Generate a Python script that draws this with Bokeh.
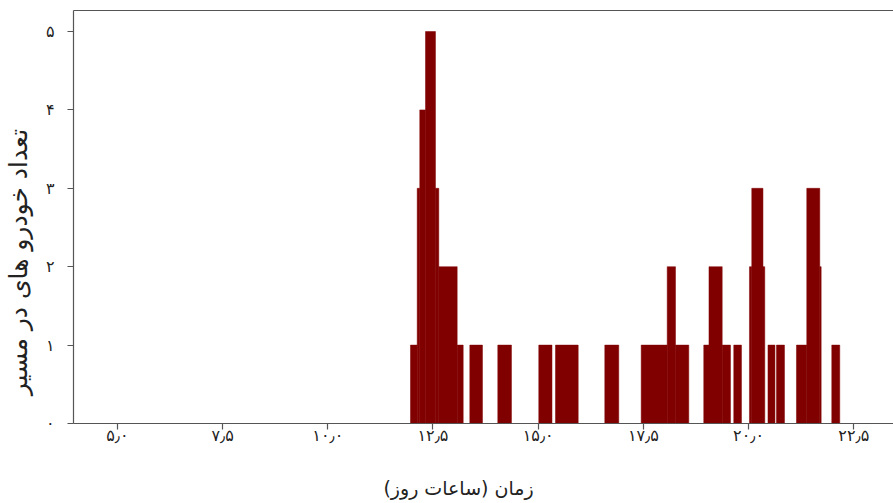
import math
from bokeh.plotting import figure
from bokeh.layouts import column, row
from bokeh.models import LinearAxis, FixedTicker, Range1d, ColumnDataSource
from bokeh.core.properties import value
from bokeh.embed import file_html
from bokeh.resources import INLINE

# step segments of the number of vehicles on the route (time in hours)
seg_start = [11.965, 12.125, 12.186, 12.322, 12.559, 12.638, 13.075, 13.375, 14.040,
             15.014, 15.411, 16.583, 17.448, 18.066, 18.263, 18.935, 19.059, 19.373,
             19.648, 20.021, 20.076, 20.342, 20.461, 20.663, 21.138, 21.383, 21.692, 21.977]
seg_end = [12.125, 12.186, 12.322, 12.559, 12.638, 13.075, 13.218, 13.676, 14.365,
           15.328, 15.951, 16.915, 18.066, 18.263, 18.579, 19.059, 19.373, 19.570,
           19.831, 20.076, 20.342, 20.385, 20.627, 20.853, 21.383, 21.692, 21.725, 22.167]
seg_count = [1, 3, 4, 5, 3, 2, 1, 1, 1,
             1, 1, 1, 1, 2, 1, 1, 2, 1,
             1, 2, 3, 2, 1, 1, 1, 3, 2, 1]

x_ticks = [5.0, 7.5, 10.0, 12.5, 15.0, 17.5, 20.0, 22.5]
x_tick_labels = ["۵٫۰", "۷٫۵", "۱۰٫۰", "۱۲٫۵", "۱۵٫۰", "۱۷٫۵", "۲۰٫۰", "۲۲٫۵"]
y_ticks = [0, 1, 2, 3, 4, 5]
y_tick_labels = ["۰", "۱", "۲", "۳", "۴", "۵"]

x_title = "زمان (ساعات روز)"
y_title = "تعداد خودرو های در مسیر"

FONT = "DejaVu Sans"
AXIS_COLOR = "#555555"
TEXT_COLOR = "#222222"

W, H = 893, 503
YLAB_W = 40          # strip holding the y title
XLAB_H = 40          # strip holding the x title
MAIN_H = H - XLAB_H

src = ColumnDataSource(dict(left=seg_start, right=seg_end,
                            top=seg_count, bottom=[0] * len(seg_count)))

p = figure(width=W - YLAB_W, height=MAIN_H, output_backend="svg", toolbar_location=None,
           x_range=Range1d(3.957, 23.444), y_range=Range1d(0, 5.268),
           x_axis_location=None, y_axis_location=None,
           min_border_left=73 - YLAB_W, min_border_right=0, min_border_top=10,
           min_border_bottom=MAIN_H - 423)
p.outline_line_color = None
p.xgrid.visible = False
p.ygrid.visible = False

p.quad(left="left", right="right", top="top", bottom="bottom", source=src,
       fill_color="#800000", line_color="#800000", line_width=0.5)

xa = LinearAxis(ticker=FixedTicker(ticks=x_ticks),
                major_label_overrides={t: l for t, l in zip(x_ticks, x_tick_labels)})
ya = LinearAxis(ticker=FixedTicker(ticks=y_ticks),
                major_label_overrides={t: l for t, l in zip(y_ticks, y_tick_labels)})

for ax in (xa, ya):
    ax.axis_line_color = AXIS_COLOR
    ax.axis_line_width = 1.2
    ax.major_tick_line_color = AXIS_COLOR
    ax.major_tick_line_width = 1.2
    ax.major_tick_out = 6
    ax.major_tick_in = 0
    ax.minor_tick_line_color = None
    ax.major_label_text_font = FONT
    ax.major_label_text_font_size = "16px"
    ax.major_label_text_color = TEXT_COLOR

xa.major_label_standoff = -4
ya.major_label_standoff = 13

p.add_layout(xa, "below")
p.add_layout(ya, "left")

top_axis = LinearAxis(ticker=FixedTicker(ticks=[]), axis_line_color=AXIS_COLOR,
                      axis_line_width=1.2, major_tick_line_color=None,
                      minor_tick_line_color=None, major_label_text_font_size="0px")
p.add_layout(top_axis, "above")


def strip(width, height):
    f = figure(width=width, height=height, output_backend="svg", toolbar_location=None,
               x_range=Range1d(0, width), y_range=Range1d(0, height),
               min_border=0, x_axis_location=None, y_axis_location=None)
    f.outline_line_color = None
    f.xgrid.visible = False
    f.ygrid.visible = False
    return f


# y title strip (left of the chart)
yl = strip(YLAB_W, MAIN_H)
yl.text(x=[18], y=[MAIN_H - 282], text=[y_title], angle=math.pi / 2,
        text_font=value(FONT), text_font_size="25px", text_color=TEXT_COLOR,
        text_align="center", text_baseline="middle")

# x title strip (below the chart), text centred at page x ~458, y ~487
xl = strip(W, XLAB_H)
xl.text(x=[458], y=[XLAB_H - (487 - MAIN_H)], text=[x_title],
        text_font=value(FONT), text_font_size="19px", text_color=TEXT_COLOR,
        text_align="center", text_baseline="middle")

layout = column(row(yl, p, spacing=0), xl, spacing=0)

open("out.html", "w").write(file_html(layout, INLINE))
